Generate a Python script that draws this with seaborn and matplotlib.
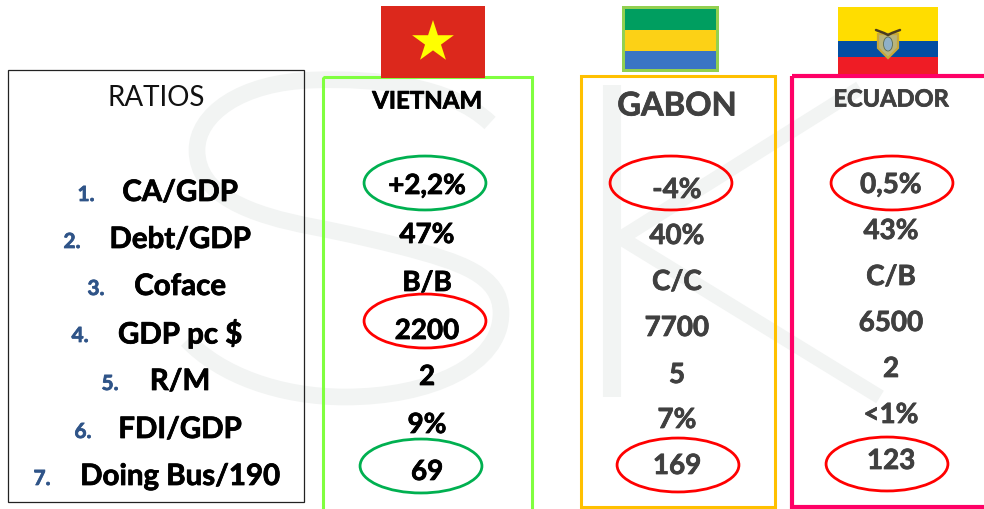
import numpy as np
import pandas as pd
import matplotlib
matplotlib.use("Agg")
import matplotlib.pyplot as plt
import matplotlib.patheffects as pe
from matplotlib.patches import Rectangle, Ellipse, PathPatch, Polygon
from matplotlib.path import Path
from matplotlib.markers import MarkerStyle
import seaborn as sns

ratios = ["CA/GDP", "Debt/GDP", "Coface", "GDP pc $", "R/M", "FDI/GDP", "Doing Bus/190"]
numbers = ["1.", "2.", "3.", "4.", "5.", "6.", "7."]
vietnam = ["+2,2%", "47%", "B/B", "2200", "2", "9%", "69"]
gabon = ["-4%", "40%", "C/C", "7700", "5", "7%", "169"]
ecuador = ["0,5%", "43%", "C/B", "6500", "2", "<1%", "123"]

# layout (pixels)
ratio_y = [193, 240, 287, 334, 382, 430, 477]
number_x = [86, 72, 96, 80, 110, 83, 42]
viet_y = [186, 235, 283, 331, 377, 425, 472]
gab_y = [190, 236, 282, 328, 375, 420, 466]
ecu_y = [185, 231, 277, 323, 369, 415, 461]

circles = pd.DataFrame({
    "x": [425, 425, 421, 671, 678, 892, 887],
    "y": [183, 321, 466, 183, 465, 183, 464],
    "verdict": ["good", "bad", "good", "bad", "bad", "bad", "bad"],
})

sns.set_theme(style="white")
plt.rcParams["font.family"] = ["Lato", "DejaVu Sans"]

fig = plt.figure(figsize=(9.84, 5.09), dpi=100)
ax = fig.add_axes([0, 0, 1, 1])
ax.set_xlim(0, 984)
ax.set_ylim(509, 0)
ax.axis("off")

# watermark "SK"
wm = "#f2f4f3"
S = Path(
    [(490, 123), (450, 85), (375, 78), (314, 80),
     (240, 82), (197, 115), (197, 150),
     (197, 195), (250, 215), (314, 227),
     (350, 234), (375, 240), (403, 247),
     (460, 262), (501, 275), (501, 313),
     (501, 365), (430, 397), (345, 397),
     (280, 397), (220, 375), (187, 340)],
    [Path.MOVETO] + [Path.CURVE4] * 21,
)
ax.add_patch(PathPatch(S, fc="none", ec=wm, lw=12, capstyle="butt", zorder=0))
ax.plot([612, 612], [85, 397], color=wm, lw=13, solid_capstyle="butt", zorder=0)
ax.plot([860, 621, 880], [88, 238, 397], color=wm, lw=10.5, solid_capstyle="butt",
        solid_joinstyle="miter", zorder=0)

# boxes
ax.add_patch(Rectangle((8, 70), 296, 432, fc="none", ec="#222222", lw=0.9, zorder=1))
ax.add_patch(Rectangle((323, 77), 209, 445, fc="none", ec="#80ff40", lw=2.2, zorder=1))
ax.add_patch(Rectangle((581, 76), 194, 431, fc="none", ec="#ffc000", lw=2.2, zorder=1))
ax.add_patch(Rectangle((791.5, 75.5), 210, 431, fc="none", ec="#ff0066", lw=3, zorder=1))

# flags
ax.add_patch(Rectangle((381, 6), 104, 72, fc="#dc281c", ec="none", zorder=3))
sns.scatterplot(x=[433], y=[42], marker="*", s=1000, color="#ffff00", edgecolor="none",
                ax=ax, zorder=4, legend=False)

ax.add_patch(Rectangle((622, 6), 97, 66, fc="#92d050", ec="none", zorder=3))
for y0, h, c in [(9, 21, "#009e60"), (30, 21, "#fcd116"), (51, 18, "#3a75c4")]:
    ax.add_patch(Rectangle((625, y0), 91, h, fc=c, ec="none", zorder=4))

ax.add_patch(Rectangle((838, 7), 100, 34, fc="#ffdd00", ec="none", zorder=3))
ax.add_patch(Rectangle((838, 41), 100, 16, fc="#034ea2", ec="none", zorder=3))
ax.add_patch(Rectangle((838, 57), 100, 17, fc="#ef1c25", ec="none", zorder=3))
ax.add_patch(Polygon([(878, 34), (898, 34), (898, 48), (888, 58), (878, 48)],
                     fc="#b9b47a", ec="#c8a838", lw=1.6, zorder=4))
ax.add_patch(Ellipse((888, 44), 9, 14, fc="#8fb0c8", ec="#5a6a50", lw=0.6, zorder=5))
ax.plot([876, 884, 888, 892, 900], [30, 33, 35, 33, 30], color="#4a3c20", lw=1.8, zorder=5)

# ovals, through seaborn
palette = {"good": "#00b050", "bad": "#ff0000"}
unit = Ellipse((0, 0), 1, 1).get_path()
oval = MarkerStyle(Path(unit.vertices * np.array([1, 54 / 122]), unit.codes))
sns.scatterplot(data=circles, x="x", y="y", hue="verdict", palette=palette,
                marker=oval, s=7700, linewidth=1.7, legend=False, ax=ax, zorder=6)
for coll in ax.collections:
    if len(coll.get_offsets()) > 1:
        coll.set_facecolor("none")
        coll.set_edgecolor([palette[v] for v in circles["verdict"]])
        coll.set_linewidth(2.0)

# text
dark = "#404040"
blue = "#2f5488"


def label(x, y, s, size, color, bold=True, thick=0.55):
    t = ax.text(x, y, s, fontsize=size, color=color, ha="center", va="center", zorder=7,
                fontweight="bold" if bold else "normal")
    if thick:
        t.set_path_effects([pe.withStroke(linewidth=thick, foreground=color)])


label(156, 98, "RATIOS", 20, "#111111", bold=False, thick=0)
for lab, n, nx, y in zip(ratios, numbers, number_x, ratio_y):
    label(180, y, lab, 21.2, "black")
    label(nx, y + 2, n, 15, blue)

label(427, 101, "VIETNAM", 17.3, "black")
label(677, 106, "GABON", 23.5, dark)
label(891, 99, "ECUADOR", 17, dark)

for vals, ys, x, c in [(vietnam, viet_y, 427, "black"),
                       (gabon, gab_y, 677, dark),
                       (ecuador, ecu_y, 891, dark)]:
    for v, y in zip(vals, ys):
        label(x, y, v, 20, c)

fig.savefig("out.png", dpi=100)
